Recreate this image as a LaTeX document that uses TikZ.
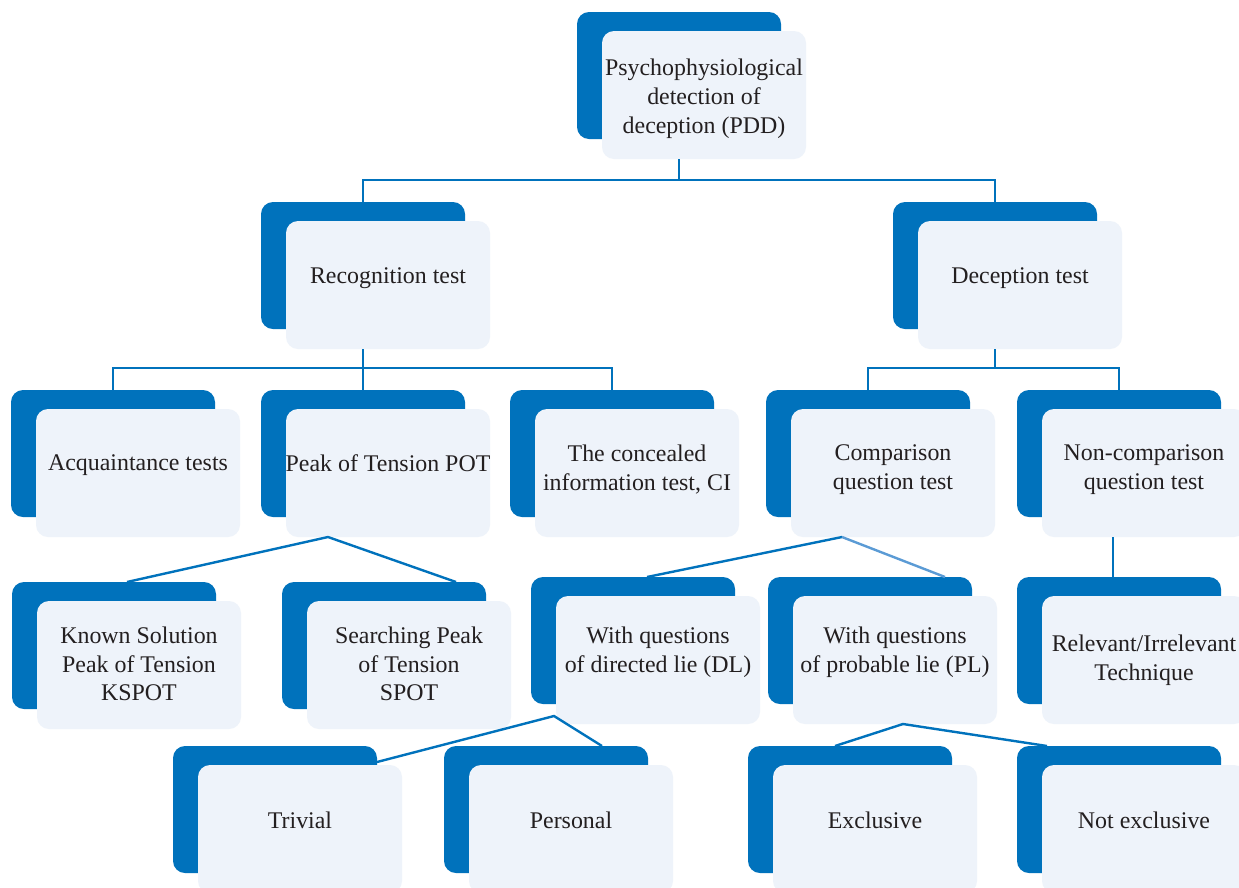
\documentclass[tikz,border=0pt]{standalone}
\usepackage{fontspec}
\setmainfont{Liberation Serif}
\usetikzlibrary{calc}
\definecolor{dblue}{RGB}{0,114,188}
\definecolor{lightfill}{RGB}{238,243,250}
\definecolor{txt}{RGB}{35,31,32}
\definecolor{lblue}{RGB}{91,155,213}
% #1 name, #2 x, #3 y (top-left of dark box), #4 text, #5 vertical text offset
\newcommand\ddbox[5]{%
  \node[darkbox, anchor=north west] (d#1) at (#2,#3) {};
  \node[frontbox, anchor=north west] (f#1) at ([shift={(25,19)}]d#1.north west) {};
  \node[lbl] (t#1) at ([shift={(0,#5)}]f#1.center) {#4};
}
\begin{document}
\begin{tikzpicture}[x=1pt,y=-1pt,
  darkbox/.style={fill=dblue, draw=none, rounded corners=12pt, minimum width=204pt, minimum height=127pt, inner sep=0pt, outer sep=0pt},
  frontbox/.style={fill=lightfill, draw=none, rounded corners=12pt, minimum width=204pt, minimum height=128pt, inner sep=0pt, outer sep=0pt},
  lbl/.style={text=txt, align=center, inner sep=0pt, font=\fontsize{23.9}{28.8}\selectfont},
  conn/.style={draw=dblue, line width=2.4pt},
  connl/.style={draw=lblue, line width=2.4pt}]
\useasboundingbox (0,0) rectangle (1239,887);
\clip (0,0) rectangle (1239,887);
\fill[white] (0,0) rectangle (1239,887);

% level 1
\ddbox{PDD}{577}{12}{Psychophysiological\\detection of\\deception (PDD)}{4}
% level 2
\ddbox{Rec}{261}{202}{Recognition test}{-6.5}
\ddbox{Dec}{893}{202}{Deception test}{-6.5}
% level 3
\ddbox{Acq}{11}{390}{Acquaintance tests}{-8}
\ddbox{PoT}{261}{390}{Peak of Tension POT}{-10}
\ddbox{CI}{510}{390}{The concealed\\information test, CI}{-3.5}
\ddbox{Cmp}{766}{390}{Comparison\\question test}{-3.5}
\ddbox{Non}{1017}{390}{Non-comparison\\question test}{-3.5}
% level 4
\ddbox{KS}{12}{582}{Known Solution\\Peak of Tension\\KSPOT}{-1}
\ddbox{Sr}{282}{582}{Searching Peak\\of Tension\\SPOT}{-1}
\ddbox{DL}{531}{577}{With questions\\of directed lie (DL)}{-8}
\ddbox{PL}{768}{577}{With questions\\of probable lie (PL)}{-8}
\ddbox{Rel}{1017}{577}{Relevant/Irrelevant\\Technique}{0.5}
% level 5
\ddbox{Tr}{173}{746}{Trivial}{-9}
\ddbox{Pe}{444}{746}{Personal}{-9}
\ddbox{Ex}{748}{746}{Exclusive}{-9}
\ddbox{NE}{1017}{746}{Not exclusive}{-9}

% connectors: PDD
\coordinate (jA) at ($(dPDD.center |- fPDD.south)+(0,21)$);
\draw[conn] (dPDD.center |- fPDD.south) -- (jA);
\draw[conn] (dRec.north) |- (jA) -| (dDec.north);
% Recognition
\coordinate (jB) at ($(dRec.center |- fRec.south)+(0,19)$);
\draw[conn] (dRec.center |- fRec.south) -- (jB);
\draw[conn] (dAcq.north) |- (jB) -| (dCI.north);
\draw[conn] (jB) -- (dPoT.north);
% Deception
\coordinate (jC) at ($(dDec.center |- fDec.south)+(0,19)$);
\draw[conn] (dDec.center |- fDec.south) -- (jC);
\draw[conn] (dCmp.north) |- (jC) -| (dNon.north);
% Peak of Tension
\coordinate (aPoT) at ([shift={(-60,0)}]fPoT.south);
\draw[conn] ([shift={(13,0)}]dKS.north) -- (aPoT) -- ([shift={(-30,0)}]dSr.north east);
% Comparison
\coordinate (aCmp) at ([shift={(-51,0)}]fCmp.south);
\draw[conn] ([shift={(14,0)}]dDL.north) -- (aCmp);
\draw[connl] (aCmp) -- ([shift={(-27,0)}]dPL.north east);
% Non-comparison
\draw[conn] ([shift={(-6,0)}]fNon.south -| dRel.north) -- ([shift={(-6,0)}]dRel.north);
% DL
\coordinate (aDL) at ([shift={(-2,-8)}]fDL.south west);
\draw[conn] ([shift={(0,16)}]dTr.north east) -- (aDL) -- ([shift={(-46,0)}]dPe.north east);
% PL
\coordinate (aPL) at ([shift={(8,0)}]fPL.south);
\draw[conn] ([shift={(-15,0)}]dEx.north) -- (aPL) -- ([shift={(30,0)}]dNE.north west);
\end{tikzpicture}
\end{document}
